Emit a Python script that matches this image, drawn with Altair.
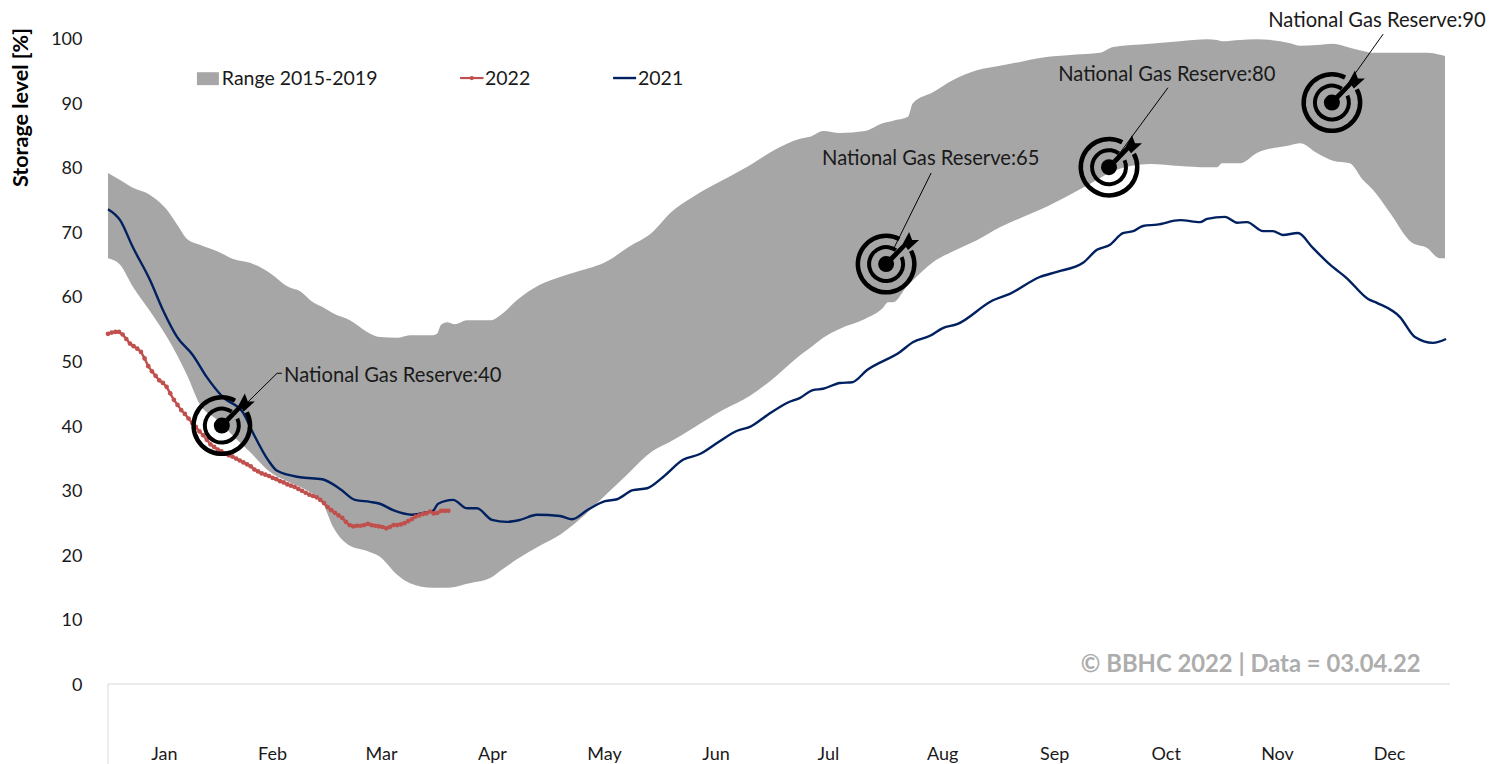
import altair as alt
import pandas as pd

FONT = "Lato"

# Storage range 2015-2019
band_day = [0, 3.3, 6.8, 11.5, 16.1, 18.9, 21.6, 25.1, 29.8, 34.2, 38.8, 44.3, 49.2, 52.5, 56.0, 58.5, 61.5, 66.1, 70.8, 74.3,
            79.0, 82.5, 88.8, 89.9, 91.0, 92.6, 94.8, 98.1, 104.4, 107.9, 111.7, 118.0, 123.5, 128.1, 136.6, 141.8, 148.9,
            153.6, 159.8, 168.0, 175.4, 182.2, 189.1, 191.8, 195.4, 200.0, 206.8, 211.7, 213.1, 214.5, 218.6, 219.9, 225.4,
            230.9, 237.4, 243.7, 249.2, 254.6, 263.7, 271.0, 274.6, 284.7, 292.9, 300.3, 303.0, 304.4, 309.3, 313.9, 323.0,
            325.7, 330.3, 334.7, 339.3, 342.9, 345.6, 350.3, 356.3, 360.4, 363.9, 365.3]
band_hi = [79.1, 78.0, 76.8, 75.7, 73.4, 71.1, 68.9, 68.0, 67.0, 65.8, 65.2, 63.6, 61.5, 60.8, 59.1, 58.4, 57.4, 56.3, 54.5, 53.7,
           53.6, 54.0, 54.0, 54.2, 55.6, 56.0, 55.7, 56.3, 56.3, 57.4, 59.4, 61.8, 63.0, 63.8, 65.5, 67.5, 70.0,
           72.9, 75.4, 78.0, 80.3, 82.7, 84.4, 84.7, 85.6, 85.3, 85.6, 86.8, 87.0, 87.2, 87.8, 89.9, 91.6,
           93.5, 95.0, 95.7, 96.3, 96.9, 97.4, 97.7, 98.6, 99.1, 99.5, 99.8, 99.7, 99.5, 99.7, 99.8, 99.2,
           98.8, 98.9, 99.1, 98.5, 98.0, 97.7, 97.7, 97.7, 97.7, 97.4, 97.2]
band_lo = [65.9, 64.9, 61.5, 57.7, 53.7, 50.9, 47.8, 43.3, 40.9, 38.4, 35.9, 32.8, 31.3, 30.5, 29.4, 28.2, 24.3, 21.4, 20.6, 19.7,
           16.9, 15.6, 14.9, 14.9, 14.9, 14.9, 15.0, 15.5, 16.4, 17.8, 19.3, 21.4, 23.1, 25.1, 29.6, 32.4, 36.1,
           37.5, 39.6, 42.4, 44.6, 47.5, 50.9, 52.0, 53.6, 55.0, 56.5, 58.2, 59.1, 59.1, 61.8, 62.5, 65.3,
           67.0, 68.7, 70.7, 72.1, 73.4, 76.0, 78.3, 79.4, 80.5, 80.2, 80.0, 80.0, 80.6, 80.6, 82.2, 83.4,
           83.7, 82.2, 81.0, 80.6, 78.0, 76.5, 72.9, 68.3, 67.5, 65.9, 65.9]

# 2021
y21_day = [0, 3.3, 6.8, 11.5, 15.0, 18.9, 23.2, 27.0, 31.4, 36.9, 39.6, 43.7, 46.2, 52.5, 58.5, 63.4, 67.5, 71.6, 74.3, 77.9,
           83.1, 87.2, 88.8, 90.2, 94.3, 98.1, 100.8, 104.9, 109.0, 112.6, 117.2, 123.5, 126.8, 130.9, 135.8, 139.1, 143.4,
           147.3, 151.6, 157.1, 161.7, 166.4, 171.9, 175.4, 180.1, 185.5, 189.1, 192.6, 195.4, 200.0, 203.3, 207.4, 216.4,
           219.9, 224.6, 228.1, 232.0, 241.8, 246.4, 254.6, 259.3, 266.4, 270.2, 273.8, 277.3, 280.1, 282.8, 286.6, 292.9,
           298.4, 300.3, 305.2, 308.5, 311.2, 315.6, 318.3, 321.0, 325.1, 329.2, 333.9, 338.5, 344.3, 346.7, 353.0, 357.1,
           362.0, 365.6]
y21_val = [73.5, 71.8, 67.6, 62.5, 57.9, 53.7, 50.9, 47.5, 44.4, 42.0, 38.9, 34.7, 33.0, 32.0, 31.7, 30.2, 28.5, 28.2, 27.9, 26.9,
           26.2, 26.6, 26.8, 27.9, 28.5, 27.2, 27.2, 25.4, 25.1, 25.4, 26.2, 26.0, 25.5, 26.9, 28.3, 28.6, 30.0,
           30.3, 32.0, 34.7, 35.6, 37.3, 39.2, 39.8, 41.6, 43.5, 44.3, 45.5, 45.7, 46.6, 46.7, 48.6, 51.4,
           52.9, 53.9, 55.1, 55.7, 59.4, 60.4, 63.0, 63.8, 65.2, 67.2, 68.0, 69.8, 70.1, 70.9, 71.1, 71.8,
           71.5, 72.0, 72.3, 71.4, 71.5, 70.1, 70.1, 69.5, 69.8, 67.5, 64.9, 62.8, 59.6, 59.0, 56.8, 53.7,
           52.8, 53.4]

# 2022 (daily, day 0 = 1 Jan)
y22_val = [54.2, 54.4, 54.5, 54.5, 54.1, 53.4, 52.7, 52.3, 51.9, 51.4, 50.4, 49.2, 48.4, 47.7, 47.0, 46.6, 46.0, 45.0, 44.0, 43.2,
           42.4, 41.8, 41.1, 40.4, 39.8, 39.1, 38.5, 37.8, 37.1, 36.7, 36.3, 36.0, 35.7, 35.4, 35.2, 34.9, 34.6, 34.3, 34.0, 33.7,
           33.2, 32.9, 32.6, 32.4, 32.2, 31.9, 31.7, 31.4, 31.2, 30.9, 30.7, 30.5, 30.2, 29.9, 29.6, 29.3, 29.1, 28.9, 28.5, 28.0,
           27.4, 26.9, 26.5, 26.1, 25.7, 25.1, 24.6, 24.4, 24.5, 24.5, 24.6, 24.8, 24.6, 24.5, 24.4, 24.3, 24.1, 24.3, 24.6, 24.6,
           24.7, 24.9, 25.2, 25.5, 25.9, 26.1, 26.3, 26.4, 26.7, 26.4, 26.5, 26.8, 26.8, 26.8]

months = ["Jan", "Feb", "Mar", "Apr", "May", "Jun", "Jul", "Aug", "Sep", "Oct", "Nov", "Dec"]
month_mid = [15.3, 44.8, 74.6, 104.9, 135.5, 166, 196.7, 227.9, 258.5, 289, 319.4, 350]
y_ticks = [0, 10, 20, 30, 40, 50, 60, 70, 80, 90, 100]

# Storage targets
target_label = ["National Gas Reserve:40", "National Gas Reserve:65", "National Gas Reserve:80", "National Gas Reserve:90"]
target_day = [31.1, 212.6, 273.5, 334.4]
target_val = [40, 65, 80, 90]
label_day = [48.1, 195.1, 259.6, 317.0]
label_val = [47.7, 81.2, 94.3, 102.7]

leader_id = [0, 0, 0, 1, 1, 2, 2, 3, 3]
leader_day = [38.3, 46.2, 47.5, 214.5, 224.9, 275.7, 289.6, 336.6, 348.4]
leader_val = [43.7, 48.1, 48.1, 67.2, 79.1, 81.6, 92.3, 91.2, 100.6]

legend_text = ["Range 2015-2019", "2022", "2021"]
legend_text_day = [31.1, 103.0, 144.8]
legend_y = 93.8
legend_text_y = 93.7

X_DOMAIN = [0, 366.67]
Y_DOMAIN = [-8.05, 104.64]
xs = alt.Scale(domain=X_DOMAIN, nice=False, zero=False)
ys = alt.Scale(domain=Y_DOMAIN, nice=False, zero=False)

label_expr = "[" + ",".join(f"'{m}'" for m in months) + "][indexof([" + ",".join(str(v) for v in month_mid) + "],datum.value)]"
x_axis = alt.Axis(values=month_mid, labelExpr=label_expr, domain=False, ticks=False, grid=False,
                  labelFont=FONT, labelFontSize=18, labelColor="#1a1a1a", labelPadding=9, labelFlush=False,
                  labelOverlap=False, title=None)
y_axis = alt.Axis(values=y_ticks, domain=False, ticks=False, grid=False, labelFont=FONT, labelFontSize=18,
                  labelColor="#1a1a1a", labelPadding=26, labelOffset=1.5, title="Storage level [%]", titleFont=FONT,
                  titleFontSize=21.5, titleFontWeight="bold", titleColor="#000000", titleX=-87, titleY=99,
                  titleAlign="center", titleBaseline="middle")


def X(f="day"):
    return alt.X(f + ":Q", scale=xs, axis=x_axis)


def Y(f="value"):
    return alt.Y(f + ":Q", scale=ys, axis=y_axis)


GRAY = "#A6A6A6"
RED = "#C0504D"
NAVY = "#002060"
AXIS = "#D9D9D9"

band_df = pd.DataFrame({"day": band_day, "hi": band_hi, "lo": band_lo})

band = alt.Chart(band_df).mark_area(color=GRAY, opacity=1, interpolate="monotone").encode(
    x=X(), y=Y("hi"), y2=alt.Y2("lo:Q"),
)

base_h = alt.Chart(pd.DataFrame({"day": [0], "end": [X_DOMAIN[1]], "value": [0]})).mark_rule(
    color=AXIS, strokeWidth=1, clip=False).encode(x=X(), x2=alt.X2("end:Q"), y=Y())
base_v = alt.Chart(pd.DataFrame({"day": [0], "value": [0], "end": [-12.4]})).mark_rule(
    color=AXIS, strokeWidth=1, clip=False).encode(x=X(), y=Y(), y2=alt.Y2("end:Q"))

line21 = alt.Chart(pd.DataFrame({"day": y21_day, "value": y21_val})).mark_line(
    color=NAVY, strokeWidth=2.4, interpolate="monotone").encode(x=X(), y=Y())
d22 = pd.DataFrame({"day": list(range(len(y22_val))), "value": y22_val})
line22 = alt.Chart(d22).mark_line(color=RED, strokeWidth=2.4).encode(x=X(), y=Y())
pts22 = alt.Chart(d22).mark_circle(color=RED, opacity=1, size=22).encode(x=X(), y=Y())

t_df = pd.DataFrame({"day": target_day, "value": target_val})
outer = alt.Chart(t_df).mark_arc(color="#000000", radius=30.5, radius2=26, theta=1.08, theta2=6.77).encode(x=X(), y=Y())
middle = alt.Chart(t_df).mark_arc(color="#000000", radius=19, radius2=15, theta=1.15, theta2=6.9).encode(x=X(), y=Y())
dot = alt.Chart(t_df).mark_arc(color="#000000", radius=8, radius2=0, theta=0, theta2=6.2832).encode(x=X(), y=Y())
ARROW = "M-1.8,-1.8L16.6,-20.2L23,-32L26,-24L33,-24L22,-14L19.8,-17L1.8,1.8Z"
arrow = alt.Chart(t_df).mark_point(shape=ARROW, filled=True, color="#000000", opacity=1, size=4, strokeWidth=0).encode(x=X(), y=Y())

leaders = alt.Chart(pd.DataFrame({"day": leader_day, "value": leader_val, "id": leader_id})).mark_line(
    color="#000000", strokeWidth=1).encode(x=X(), y=Y(), detail="id:N")

labels = alt.Chart(pd.DataFrame({"day": label_day, "value": label_val, "t": target_label})).mark_text(
    font=FONT, fontSize=20.2, align="left", baseline="middle", color="#1a1a1a", clip=False).encode(x=X(), y=Y(), text="t:N")

legend_rect = alt.Chart(pd.DataFrame({"day": [24.3], "end": [30.3], "value": [94.7], "end2": [92.7]})).mark_rect(color=GRAY).encode(
    x=X(), x2=alt.X2("end:Q"), y=Y(), y2=alt.Y2("end2:Q"))
legend_red = alt.Chart(pd.DataFrame({"day": [96.2], "end": [102.6], "value": [legend_y]})).mark_rule(color=RED, strokeWidth=2.2).encode(
    x=X(), x2=alt.X2("end:Q"), y=Y())
legend_dot = alt.Chart(pd.DataFrame({"day": [99.4], "value": [legend_y]})).mark_circle(color=RED, opacity=1, size=18).encode(x=X(), y=Y())
legend_navy = alt.Chart(pd.DataFrame({"day": [138.0], "end": [144.3], "value": [legend_y]})).mark_rule(color=NAVY, strokeWidth=2.4).encode(
    x=X(), x2=alt.X2("end:Q"), y=Y())
legend_labels = alt.Chart(pd.DataFrame({"day": legend_text_day, "value": [legend_text_y] * 3, "t": legend_text})).mark_text(
    font=FONT, fontSize=19.5, align="left", baseline="middle", color="#1a1a1a").encode(x=X(), y=Y(), text="t:N")

credit = alt.Chart(pd.DataFrame({"day": [265.8], "value": [3.0], "t": ["© BBHC 2022 | Data = 03.04.22"]})).mark_text(
    font=FONT, fontSize=23.8, fontWeight="bold", align="left", baseline="middle", color="#ADADAD").encode(x=X(), y=Y(), text="t:N")

chart = alt.layer(
    band, base_h, base_v, line21, line22, pts22, leaders, outer, middle, dot, arrow, labels,
    legend_rect, legend_red, legend_dot, legend_navy, legend_labels, credit,
).properties(
    width=1342, height=728,
    padding={"left": 100, "top": 0, "right": 38, "bottom": 28},
    autosize=alt.AutoSizeParams(type="none"),
    background="white",
).configure_view(stroke=None)

chart.save("out.html", embed_options={"renderer": "svg", "actions": False})
